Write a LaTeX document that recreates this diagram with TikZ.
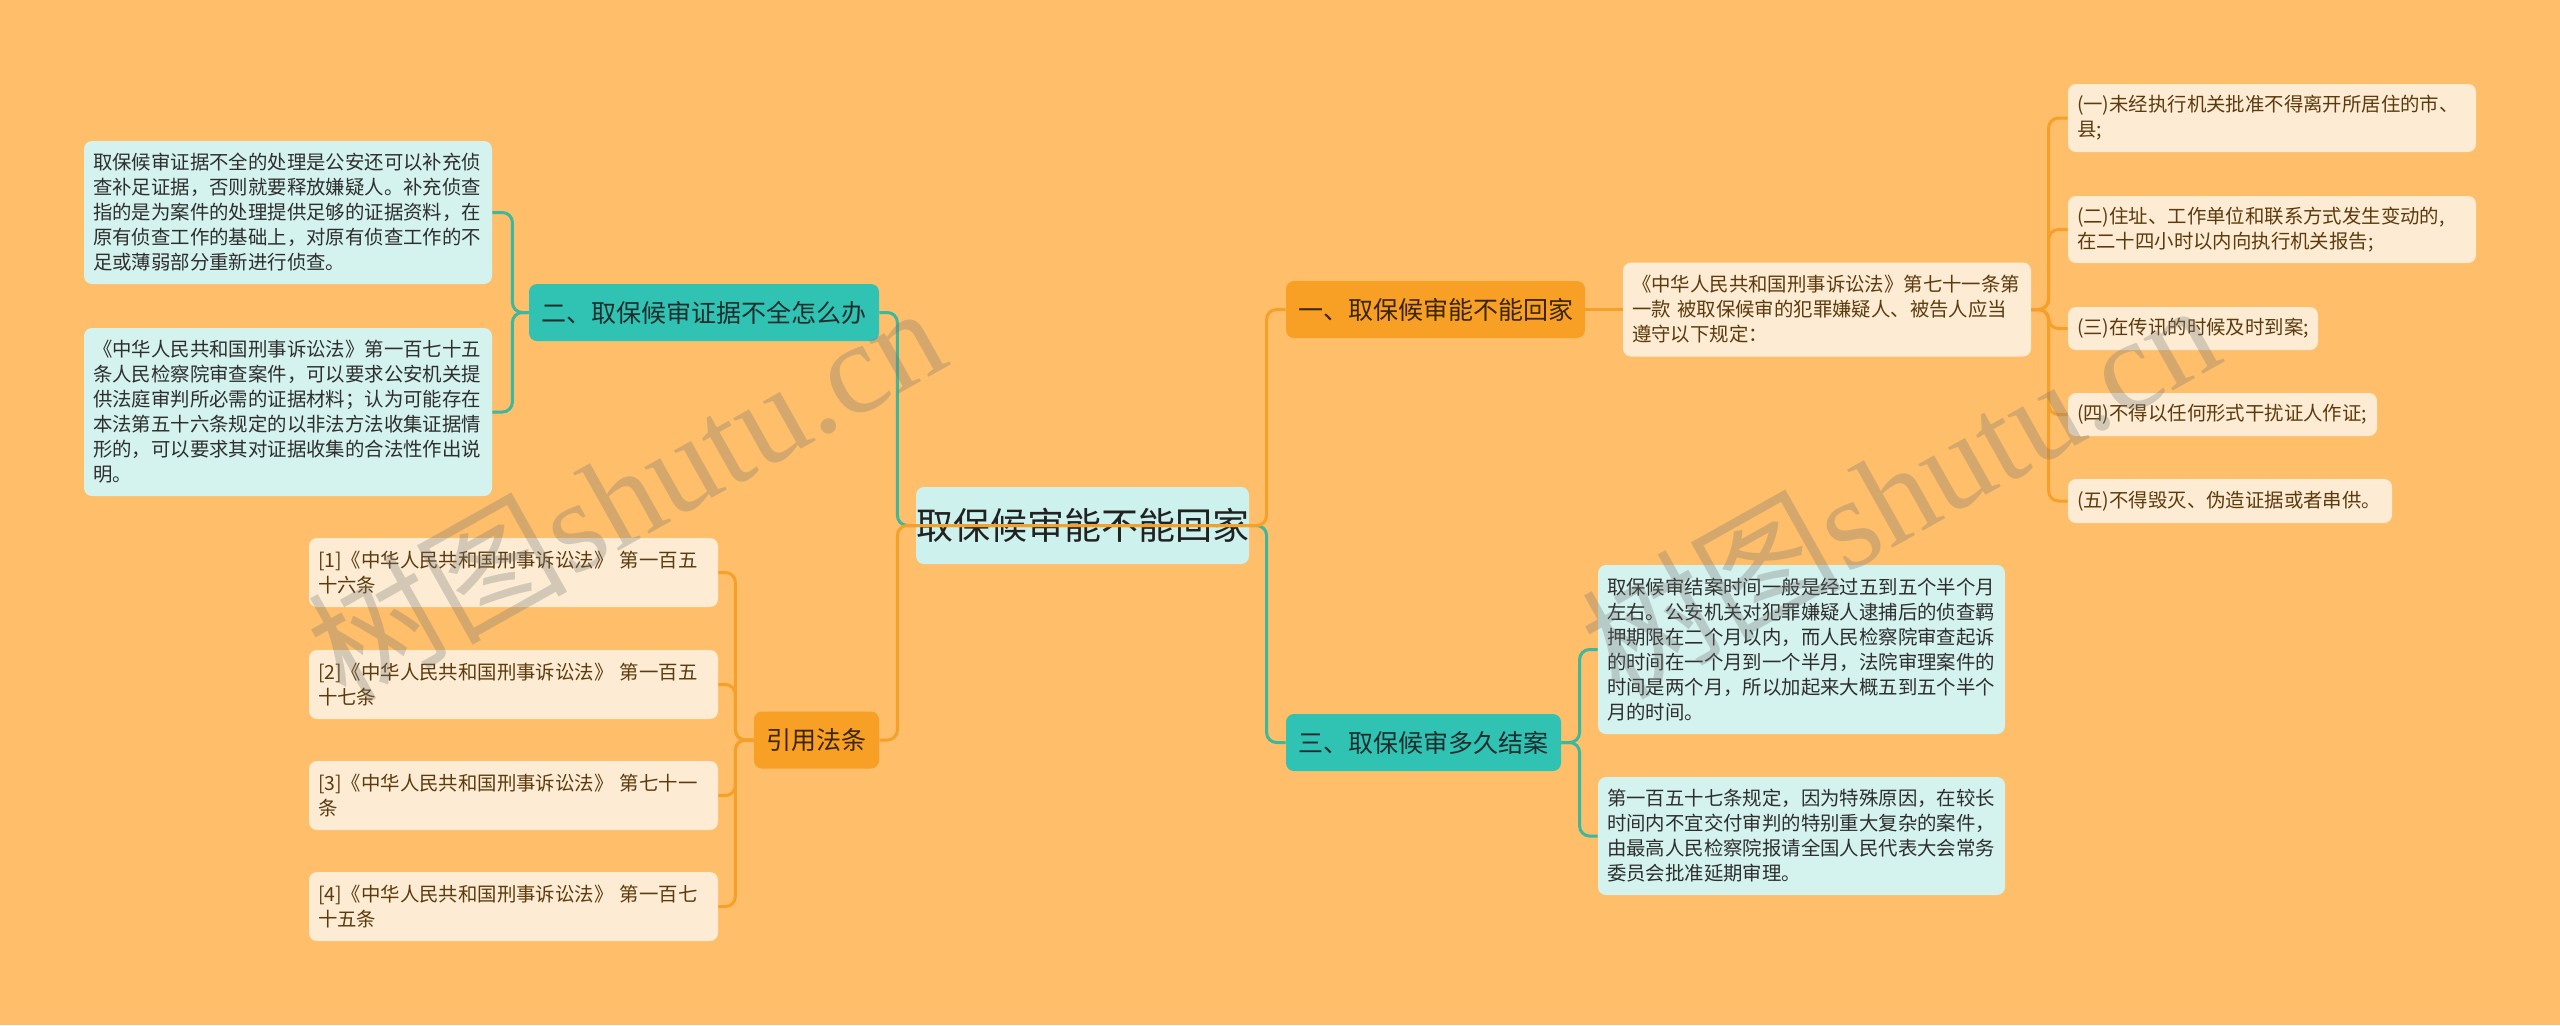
\documentclass[tikz,border=0pt]{standalone}
\usepackage{fontspec}
\setmainfont{Noto Sans CJK SC}
\newfontfamily\wmserif{Liberation Serif}
\definecolor{bgc}{HTML}{FEBE6A}
\definecolor{orfill}{HTML}{F8A025}
\definecolor{orline}{HTML}{F6A02A}
\definecolor{tlfill}{HTML}{30C2B2}
\definecolor{tlline}{HTML}{3DB89C}
\definecolor{rootfill}{HTML}{CDF2EE}
\definecolor{crfill}{HTML}{FDECD3}
\definecolor{cyfill}{HTML}{D4F2EE}
\definecolor{crtext}{HTML}{5C3A0E}
\definecolor{cytext}{HTML}{2E2E2E}
\definecolor{ortext}{HTML}{3B2507}
\definecolor{tltext}{HTML}{1E2E2E}
\definecolor{roottext}{HTML}{222222}
\newcommand\leaffont{\fontsize{9.7pt}{12.5pt}\selectfont}
\tikzset{
  basebox/.style={rounded corners=4pt, inner xsep=0pt, inner ysep=0pt, align=center},
  rootbox/.style={basebox, fill=rootfill, text=roottext, font=\fontsize{18.5pt}{22pt}\selectfont, minimum width=166.5pt, minimum height=38.5pt},
  orbox/.style={basebox, fill=orfill, text=ortext, font=\fontsize{12.5pt}{15pt}\selectfont, minimum height=28.5pt},
  tlbox/.style={basebox, fill=tlfill, text=tltext, font=\fontsize{12.5pt}{15pt}\selectfont, minimum height=28.5pt},
  crleaf/.style={basebox, fill=crfill, text=crtext, font=\leaffont, align=left, inner xsep=4.5pt},
  cyleaf/.style={basebox, fill=cyfill, text=cytext, font=\leaffont, align=left, inner xsep=4.5pt},
  tline/.style={draw=tlline, line width=1.5pt, rounded corners=5pt},
  oline/.style={draw=orline, line width=1.5pt, rounded corners=5pt},
  wm/.style={text=black!55, text opacity=0.3, font=\fontsize{65pt}{70pt}\selectfont, inner sep=0pt},
}
\begin{document}
\begin{tikzpicture}[x=0.5pt,y=-0.5pt]
\useasboundingbox (0,0) rectangle (2560,1025);
\fill[bgc] (0,0) rectangle (2560,1025);

% root and branches
\node[rootbox] (root) at (1082.5,525.5) {取保候审能不能回家};
\node[tlbox, minimum width=175pt] (b2) at (704,312.5) {二、取保候审证据不全怎么办};
\node[orbox, minimum width=149.5pt] (b1) at (1435.5,309.5) {一、取保候审能不能回家};
\node[orbox, minimum width=62.5pt] (b4) at (816.5,740) {引用法条};
\node[tlbox, minimum width=137.5pt] (b3) at (1423.5,742.5) {三、取保候审多久结案};

% children of b2
\node[cyleaf, text width=195pt, minimum height=71.5pt] (la) at (288,212.5) {取保候审证据不全的处理是公安还可以补充侦\\查补足证据，否则就要释放嫌疑人。补充侦查\\指的是为案件的处理提供足够的证据资料，在\\原有侦查工作的基础上，对原有侦查工作的不\\足或薄弱部分重新进行侦查。};
\node[cyleaf, text width=195pt, minimum height=84pt] (lb) at (288,412) {《中华人民共和国刑事诉讼法》第一百七十五\\条人民检察院审查案件，可以要求公安机关提\\供法庭审判所必需的证据材料；认为可能存在\\本法第五十六条规定的以非法方法收集证据情\\形的，可以要求其对证据收集的合法性作出说\\明。};

% children of b4
\node[crleaf, text width=195.5pt, minimum height=34.5pt] (r1) at (513.5,572.5) {[1]《中华人民共和国刑事诉讼法》 第一百五\\十六条};
\node[crleaf, text width=195.5pt, minimum height=34.5pt] (r2) at (513.5,684.5) {[2]《中华人民共和国刑事诉讼法》 第一百五\\十七条};
\node[crleaf, text width=195.5pt, minimum height=34.5pt] (r3) at (513.5,795.5) {[3]《中华人民共和国刑事诉讼法》 第七十一\\条};
\node[crleaf, text width=195.5pt, minimum height=34.5pt] (r4) at (513.5,906.5) {[4]《中华人民共和国刑事诉讼法》 第一百七\\十五条};

% child of b1
\node[crleaf, text width=195pt, minimum height=47pt] (lq) at (1827,309.5) {《中华人民共和国刑事诉讼法》第七十一条第\\一款 被取保候审的犯罪嫌疑人、被告人应当\\遵守以下规定：};

% children of lq
\node[crleaf, text width=195pt, minimum height=34pt] (p1) at (2272,118) {(一)未经执行机关批准不得离开所居住的市、\\县;};
\node[crleaf, text width=195pt, minimum height=33.5pt] (p2) at (2272,229.5) {(二)住址、工作单位和联系方式发生变动的,\\在二十四小时以内向执行机关报告;};
\node[crleaf, text width=116pt, minimum height=21.5pt] (p3) at (2193,328.5) {(三)在传讯的时候及时到案;};
\node[crleaf, text width=145.5pt, minimum height=21.5pt] (p4) at (2222.5,414.5) {(四)不得以任何形式干扰证人作证;};
\node[crleaf, text width=153pt, minimum height=22pt] (p5) at (2230,501) {(五)不得毁灭、伪造证据或者串供。};

% children of b3
\node[cyleaf, text width=194.5pt, minimum height=84.5pt] (c1) at (1801.5,649.5) {取保候审结案时间一般是经过五到五个半个月\\左右。公安机关对犯罪嫌疑人逮捕后的侦查羁\\押期限在二个月以内，而人民检察院审查起诉\\的时间在一个月到一个半月，法院审理案件的\\时间是两个月，所以加起来大概五到五个半个\\月的时间。};
\node[cyleaf, text width=194.5pt, minimum height=59pt] (c2) at (1801.5,836) {第一百五十七条规定，因为特殊原因，在较长\\时间内不宜交付审判的特别重大复杂的案件，\\由最高人民检察院报请全国人民代表大会常务\\委员会批准延期审理。};

% connectors from root (teal first, orange on top)
\draw[tline] (root.center) -| ([xshift=9pt]b2.east) -- (b2.east);
\draw[tline] (root.center) -| ([xshift=-9.5pt]b3.west) -- (b3.west);
\draw[oline] (root.center) -| ([xshift=9pt]b4.east) -- (b4.east);
\draw[oline] (root.center) -| ([xshift=-9.5pt]b1.west) -- (b1.west);

% b2 bracket
\draw[tline] (b2.west) -| ([xshift=10pt]la.east) -- (la.east);
\draw[tline] (b2.west) -| ([xshift=10pt]lb.east) -- (lb.east);

% b4 bracket
\draw[oline] (b4.west) -| ([xshift=8.5pt]r1.east) -- (r1.east);
\draw[oline] (b4.west) -| ([xshift=8.5pt]r2.east) -- (r2.east);
\draw[oline] (b4.west) -| ([xshift=8.5pt]r3.east) -- (r3.east);
\draw[oline] (b4.west) -| ([xshift=8.5pt]r4.east) -- (r4.east);

% b1 to lq
\draw[oline] (b1.east) -- (lq.west);

% lq bracket
\draw[oline] (lq.east) -| ([xshift=-9.5pt]p1.west) -- (p1.west);
\draw[oline] (lq.east) -| ([xshift=-9.5pt]p2.west) -- (p2.west);
\draw[oline] (lq.east) -| ([xshift=-9.5pt]p3.west) -- (p3.west);
\draw[oline] (lq.east) -| ([xshift=-9.5pt]p4.west) -- (p4.west);
\draw[oline] (lq.east) -| ([xshift=-9.5pt]p5.west) -- (p5.west);

% b3 bracket
\draw[tline] (b3.east) -| ([xshift=-9pt]c1.west) -- (c1.west);
\draw[tline] (b3.east) -| ([xshift=-9pt]c2.west) -- (c2.west);

% watermarks
\node[wm, rotate=29.3] (wm1) at (625,491) {树图{\wmserif shutu.cn}};
\node[wm, rotate=29.3] (wm2) at (1899,488) {树图{\wmserif shutu.cn}};
\end{tikzpicture}
\end{document}
